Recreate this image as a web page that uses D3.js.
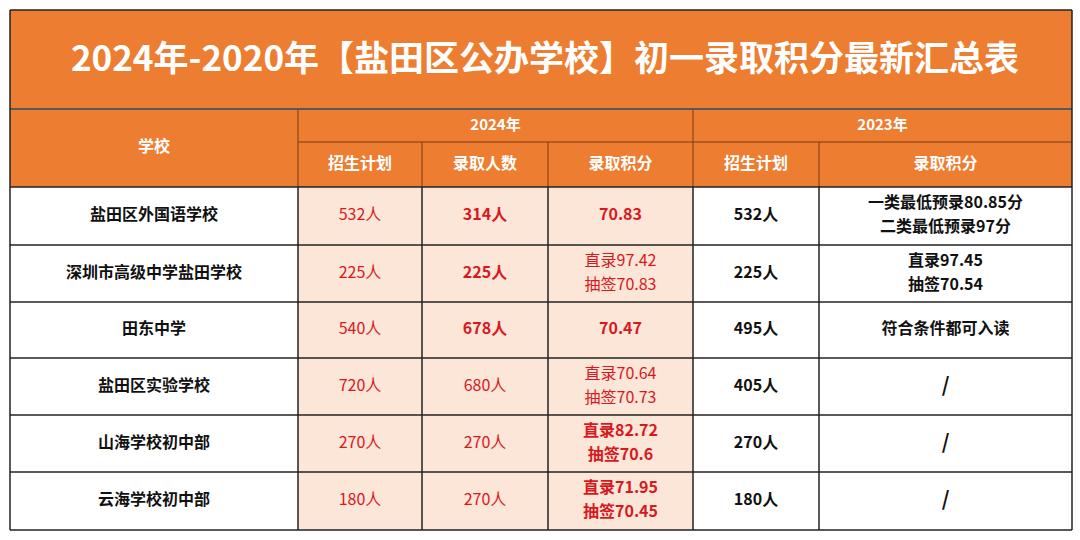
<!DOCTYPE html>
<html><head><meta charset="utf-8">
<script src="https://cdn.jsdelivr.net/npm/d3@7"></script>
<style>body{margin:0;background:#fff;font-family:"Noto Sans CJK SC",sans-serif}</style>
</head><body><div id="c"></div>
<script>
const title = "2024年-2020年【盐田区公办学校】初一录取积分最新汇总表";
const schools = ["盐田区外国语学校","深圳市高级中学盐田学校","田东中学","盐田区实验学校","山海学校初中部","云海学校初中部"];
const plan2024 = ["532人","225人","540人","720人","270人","180人"];
const admitted2024 = ["314人","225人","678人","680人","270人","270人"];
const admittedBold = [true,true,true,false,false,false];
const score2024 = [["70.83"],["直录97.42","抽签70.83"],["70.47"],["直录70.64","抽签70.73"],["直录82.72","抽签70.6"],["直录71.95","抽签70.45"]];
const score2024Bold = [true,false,true,false,true,true];
const plan2023 = ["532人","225人","495人","405人","270人","180人"];
const score2023 = [["一类最低预录80.85分","二类最低预录97分"],["直录97.45","抽签70.54"],["符合条件都可入读"],["/"],["/"],["/"]];

const W=1080,H=540;
const colX=[10,298,422,548,693,819,1072];
const rowY=[187,245,302,358,415,472,530];
const svg=d3.select("#c").append("svg").attr("width",W).attr("height",H);
const ORANGE="#ED7D31", RED="#D7191F", PINK="#FCE6D8";

svg.append("rect").attr("x",colX[0]).attr("y",10).attr("width",colX[6]-colX[0]).attr("height",98).attr("fill",ORANGE);
svg.append("text").attr("x",(colX[0]+colX[6])/2+4).attr("y",61).attr("text-anchor","middle").attr("dominant-baseline","middle")
  .attr("fill","#fff").attr("font-size",35).attr("font-weight","bold").text(title);
svg.append("rect").attr("x",colX[0]).attr("y",110).attr("width",colX[6]-colX[0]).attr("height",rowY[0]-110).attr("fill",ORANGE);
const hline=(x1,x2,y,c,w)=>svg.append("line").attr("x1",x1).attr("x2",x2).attr("y1",y).attr("y2",y).attr("stroke",c).attr("stroke-width",w);
const vline=(x,y1,y2,c,w)=>svg.append("line").attr("x1",x).attr("x2",x).attr("y1",y1).attr("y2",y2).attr("stroke",c).attr("stroke-width",w);
const txt=(x,y,s,o)=>svg.append("text").attr("x",x).attr("y",y).attr("text-anchor","middle").attr("dominant-baseline","middle")
  .attr("font-size",o.size||16).attr("font-weight",o.bold?"bold":"normal").attr("fill",o.fill||"#111").text(s);
const mid=i=>(colX[i]+colX[i+1])/2;

txt(mid(0),148,"学校",{fill:"#fff",bold:true});
txt((colX[1]+colX[4])/2,126,"2024年",{fill:"#fff",bold:true,size:15});
txt((colX[4]+colX[6])/2,126,"2023年",{fill:"#fff",bold:true,size:15});
["招生计划","录取人数","录取积分","招生计划","录取积分"].forEach((s,i)=>txt(mid(i+1),165,s,{fill:"#fff",bold:true}));
hline(colX[1],colX[6],142,"#7a3a10",1);
colX.slice(1,6).forEach((x,i)=>vline(x,i===0||i===3?110:142,rowY[0],"#7a3a10",1));

schools.forEach((s,r)=>{
  const y0=rowY[r],y1=rowY[r+1],cy=(y0+y1)/2;
  svg.append("rect").attr("x",colX[1]).attr("y",y0).attr("width",colX[4]-colX[1]).attr("height",y1-y0).attr("fill",PINK);
  txt(mid(0),cy,s,{bold:true});
  txt(mid(1),cy,plan2024[r],{fill:RED});
  txt(mid(2),cy,admitted2024[r],{fill:RED,bold:admittedBold[r]});
  const lines=(arr,i,o)=>arr.forEach((t,k)=>txt(mid(i),cy+(k-(arr.length-1)/2)*24,t,o));
  lines(score2024[r],3,{fill:RED,bold:score2024Bold[r]});
  txt(mid(4),cy,plan2023[r],{bold:true});
  lines(score2023[r],5,{bold:true,size:score2023[r][0]==="/"?20:16});
});
rowY.forEach(y=>hline(colX[0],colX[6],y,"#222",1.5));
colX.forEach((x,i)=>vline(x,i===0||i===6?10:rowY[0],rowY[6],"#222",1.5));
hline(colX[0],colX[6],10,"#222",1.5);
hline(colX[0],colX[6],109,"#222",1.5);
</script></body></html>
